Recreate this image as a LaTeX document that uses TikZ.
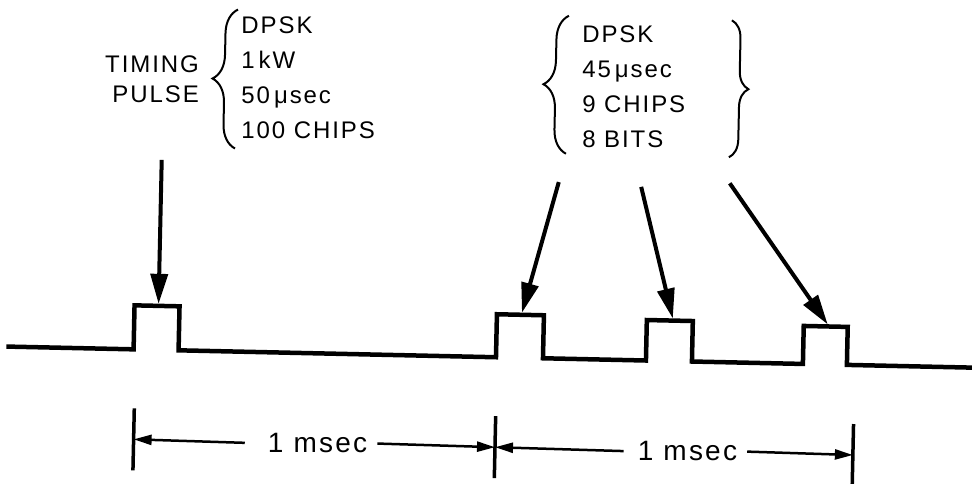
\documentclass[tikz,border=0pt]{standalone}
\usepackage{fontspec}
\setmainfont{Liberation Sans}[LetterSpace=8]
\usetikzlibrary{arrows.meta,decorations.pathreplacing}
\tikzset{
  lbl/.style={inner sep=0pt, align=left, font=\fontsize{24}{35}\selectfont},
  msec/.style={inner sep=0pt, font=\fontsize{28}{30}\selectfont},
  wave/.style={line width=4.5pt, line join=miter, line cap=rect},
  ptr/.style={-{Triangle[length=30pt,width=17pt]}, line width=4pt},
  dim/.style={-{Triangle[length=18pt,width=10pt]}, line width=2.5pt},
  dimtick/.style={line width=3.5pt},
  brc/.style={decorate, decoration={brace, amplitude=#1}, line width=2pt},
  brc/.default=22pt
}
\begin{document}
\begin{tikzpicture}[x=1pt, y=-1pt]
\useasboundingbox (0,0) rectangle (972,484);
\begin{scope}[rotate around={-1.25:(486,242)}]
% texts and braces
\node[lbl, align=right, anchor=base east, font=\fontsize{24}{30}\selectfont] (timing) at (196,108.5) {TIMING\\PULSE};
\node[lbl, anchor=base west] (tdata) at (239,143.5) {DPSK\\1\,kW\\50\,μsec\\100 CHIPS};
\node[lbl, anchor=base west] (bdata) at (580,145.5) {DPSK\\45\,μsec\\9 CHIPS\\8 BITS};
\draw[brc=24pt] (233,154) -- (233,15);
\draw[brc=24pt] (564,152) -- (564,14);
\draw[brc=18pt] (727,15) -- (727,152);
% pulse train
\draw[wave] (11,357) -| (136,313) -| (181,357) -| (498.5,314) -| (545.5,357)
  -| (648.5,316.5) -| (694.5,357) -| (805.5,319) -| (849.5,357) -- (975,357);
\coordinate (p1) at (160,311);
\coordinate (p2) at (523.5,312);
\coordinate (p3) at (674.5,314.5);
\coordinate (p4) at (829.5,317);
\coordinate (a1) at (160,167);
\coordinate (a2) at (557.5,180.5);
\coordinate (a3) at (640,183.5);
\coordinate (a4) at (728.5,178);
\draw[ptr] (a1) -- (p1);
\draw[ptr] (a2) -- (p2);
\draw[ptr] (a3) -- (p3);
\draw[ptr] (a4) -- (p4);
% 1 msec spacing
\coordinate (t1) at (138,447);
\coordinate (t2) at (499.5,447);
\coordinate (t3) at (857.5,447);
\foreach \t in {t1,t2,t3}
  \draw[dimtick] ([yshift=31pt]\t) -- ([yshift=-31pt]\t);
\node[msec] (ms1) at (322,447) {1 msec};
\node[msec] (ms2) at (692,447) {1 msec};
\draw[dim] ([xshift=-23pt]ms1.west) -- (t1);
\draw[dim] ([xshift=10pt]ms1.east) -- (t2);
\draw[dim] ([xshift=-14pt]ms2.west) -- (t2);
\draw[dim] ([xshift=10pt]ms2.east) -- (t3);
\end{scope}
\end{tikzpicture}
\end{document}
